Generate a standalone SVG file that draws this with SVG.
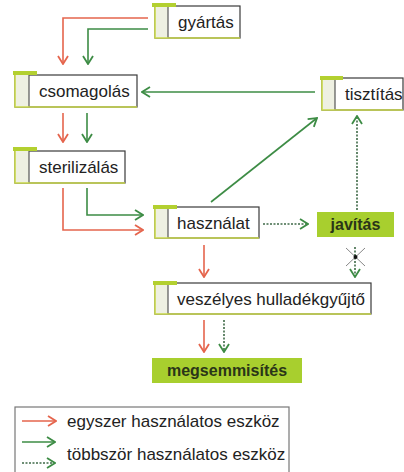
<svg xmlns="http://www.w3.org/2000/svg" width="404" height="472" viewBox="0 0 404 472">
<defs>
<style>
.lbl{font-family:"Liberation Sans",Arial,sans-serif;font-size:17px;fill:#222}
.blbl{font-family:"Liberation Sans",Arial,sans-serif;font-size:16px;font-weight:bold;fill:#2a3518;text-anchor:middle}
.frame{fill:#fff;stroke:#3a3a3a;stroke-width:1.2}
.strip{fill:#eef0e2}
.sep{stroke:#555;stroke-width:1.2}
.yl{fill:none;stroke:#c9d84a;stroke-width:1.6}
.tab{fill:#b3d030}
.gbox{fill:#a8cf2e}
.red{fill:none;stroke:#e5654d;stroke-width:1.6}
.grn{fill:none;stroke:#3d8c45;stroke-width:1.6}
.dot{fill:none;stroke:#3f6a48;stroke-width:1.6;stroke-dasharray:2 1.5}
</style>
<marker id="ar" viewBox="0 0 10 12" refX="9" refY="6" markerWidth="10" markerHeight="12" markerUnits="userSpaceOnUse" orient="auto"><path d="M1,1 L9,6 L1,11" fill="none" stroke="#e5654d" stroke-width="1.8"/></marker>
<marker id="ag" viewBox="0 0 10 12" refX="9" refY="6" markerWidth="10" markerHeight="12" markerUnits="userSpaceOnUse" orient="auto"><path d="M1,1 L9,6 L1,11" fill="none" stroke="#3d8c45" stroke-width="1.8"/></marker>
</defs>
<rect width="404" height="472" fill="#fff"/>

<g id="connectors">
<path class="red" d="M148,18 H63 V64" marker-end="url(#ar)"/>
<path class="grn" d="M148,29 H88 V64" marker-end="url(#ag)"/>
<path class="red" d="M63,113 V142" marker-end="url(#ar)"/>
<path class="grn" d="M87,113 V142" marker-end="url(#ag)"/>
<path class="grn" d="M315,92 H142" marker-end="url(#ag)"/>
<path class="grn" d="M211,202 L317,118" marker-end="url(#ag)"/>
<path class="dot" d="M357,210 V116" marker-end="url(#ag)"/>
<path class="grn" d="M87,188 V215 H143" marker-end="url(#ag)"/>
<path class="red" d="M63,188 V230 H143" marker-end="url(#ar)"/>
<path class="dot" d="M263,224 H308" marker-end="url(#ag)"/>
<path class="red" d="M204,245 V277" marker-end="url(#ar)"/>
<path class="dot" d="M355,247 V277" marker-end="url(#ag)"/>
<path d="M346,248 L365,266 M365,248 L346,266" stroke="#888" stroke-width="1" fill="none"/>
<circle cx="355.5" cy="257" r="2" fill="#111"/>
<path class="red" d="M204,320 V352" marker-end="url(#ar)"/>
<path class="dot" d="M224,320 V352" marker-end="url(#ag)"/>
</g>

<g id="gyartas">
<rect class="frame" x="155" y="6" width="85" height="32"/>
<rect class="strip" x="155" y="6" width="13" height="32"/>
<line class="sep" x1="168" y1="6" x2="168" y2="38"/>
<path class="yl" d="M155,6 V38 H240"/>
<rect class="tab" x="152" y="3" width="24" height="4"/>
<text class="lbl" x="178" y="28">gyártás</text>
</g>

<g id="csomagolas">
<rect class="frame" x="15" y="75" width="122" height="32"/>
<rect class="strip" x="15" y="75" width="14" height="32"/>
<line class="sep" x1="29" y1="75" x2="29" y2="107"/>
<path class="yl" d="M15,75 V107 H137"/>
<rect class="tab" x="13" y="71" width="24" height="4"/>
<text class="lbl" x="39" y="97">csomagolás</text>
</g>

<g id="tisztitas">
<rect class="frame" x="322" y="78" width="81" height="32"/>
<rect class="strip" x="322" y="78" width="13" height="32"/>
<line class="sep" x1="335" y1="78" x2="335" y2="110"/>
<path class="yl" d="M322,78 V110 H403"/>
<rect class="tab" x="320" y="76" width="23" height="4"/>
<text class="lbl" x="345" y="100">tisztítás</text>
</g>

<g id="sterilizalas">
<rect class="frame" x="15" y="151" width="110" height="32"/>
<rect class="strip" x="15" y="151" width="14" height="32"/>
<line class="sep" x1="29" y1="151" x2="29" y2="183"/>
<path class="yl" d="M15,151 V183 H125"/>
<rect class="tab" x="13" y="147" width="24" height="4"/>
<text class="lbl" x="39" y="173">sterilizálás</text>
</g>

<g id="hasznalat">
<rect class="frame" x="155" y="207" width="104" height="31"/>
<rect class="strip" x="155" y="207" width="13" height="31"/>
<line class="sep" x1="168" y1="207" x2="168" y2="238"/>
<path class="yl" d="M155,207 V238 H259"/>
<rect class="tab" x="153" y="205" width="24" height="4"/>
<text class="lbl" x="177" y="229">használat</text>
</g>

<g id="javitas">
<rect class="gbox" x="317" y="212" width="77" height="25"/>
<text class="blbl" x="355.5" y="230">javítás</text>
</g>

<g id="veszelyes">
<rect class="frame" x="155" y="283" width="216" height="31"/>
<rect class="strip" x="155" y="283" width="13" height="31"/>
<line class="sep" x1="168" y1="283" x2="168" y2="314"/>
<path class="yl" d="M155,283 V314 H371"/>
<rect class="tab" x="153" y="281" width="24" height="4"/>
<text class="lbl" x="177" y="305">veszélyes hulladékgyűjtő</text>
</g>

<g id="megsemmisites">
<rect class="gbox" x="152" y="358" width="150" height="25"/>
<text class="blbl" x="227" y="376">megsemmisítés</text>
</g>

<g id="legend">
<rect x="15" y="407" width="274" height="70" fill="#fff" stroke="#777" stroke-width="1.2"/>
<path class="red" d="M22,421 H56" marker-end="url(#ar)"/>
<text class="lbl" x="67" y="427">egyszer használatos eszköz</text>
<path class="grn" d="M22,442 H55" marker-end="url(#ag)"/>
<path class="dot" d="M22,463 H55" marker-end="url(#ag)"/>
<text class="lbl" x="67" y="460">többször használatos eszköz</text>
</g>
</svg>
